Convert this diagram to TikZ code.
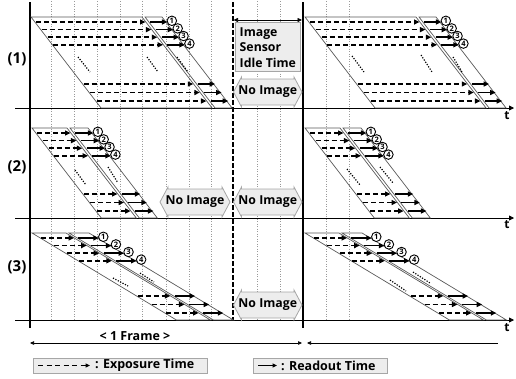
\documentclass[tikz,border=0pt]{standalone}
\usepackage{fontspec}
\setmainfont{Open Sans}
\usetikzlibrary{arrows.meta}
\newcommand\blk[9]{%
% #1 shift #2 ytop #3 ybot #4 slope #5 xL #6 xD1 #7 xD2 #8 xO #9 prefix
\begin{scope}[xshift=#1pt]
\pgfmathsetmacro\hh{#3-#2}
\draw[diag] (#5,#2) -- (#6,#2) -- ({#6+#4*\hh},#3) -- ({#5+#4*\hh},#3) -- cycle;
\draw[diag] (#7,#2) -- (#8,#2) -- ({#8+#4*\hh},#3) -- ({#7+#4*\hh},#3) -- cycle;
\foreach \dy [count=\i] in {5,12.6,20.2,27.8} {
  \pgfmathsetmacro\yy{#2+\dy}
  \draw[exparr] ({#5+#4*\dy+1},\yy) -- ({#6+#4*\dy-0.3},\yy);
  \draw[readarr] ({#7+#4*\dy+1},\yy) -- ({#8+#4*\dy+1.5},\yy);
  \node[circ] (#9c\i) at ({#8+#4*\dy+6},\yy-1.2) {\i};
}
\foreach \dd in {24,15.5,7} {
  \pgfmathsetmacro\dy{\hh-\dd}
  \pgfmathsetmacro\yy{#2+\dy}
  \draw[exparr] ({#5+#4*\dy+1},\yy) -- ({#6+#4*\dy-0.3},\yy);
  \draw[readarr] ({#7+#4*\dy+1},\yy) -- ({#8+#4*\dy+1.5},\yy);
}
\end{scope}}
\newcommand\noimg[4]{%
\draw[boxst] (#2,#4) -- (#2+8,#4-15) -- (#2+8,#4-13) -- (#3-8,#4-13) -- (#3-8,#4-15) -- (#3,#4) -- (#3-8,#4+15) -- (#3-8,#4+13) -- (#2+8,#4+13) -- (#2+8,#4+15) -- cycle;
\node[lbl] (#1) at ({(#2+#3)/2},#4) {No Image};}
\begin{document}
\begin{tikzpicture}[x=1pt,y=-1pt,
  diag/.style={draw=black!65,line width=0.7pt},
  gridl/.style={draw=black!40,line width=0.5pt,dash pattern=on 1pt off 1.5pt},
  exparr/.style={line width=1.5pt,dash pattern=on 5pt off 3pt,-{Triangle[length=5.5pt,width=5pt]}},
  readarr/.style={line width=1.6pt,-{Triangle[length=5.5pt,width=5pt]}},
  circ/.style={circle,draw,fill=white,inner sep=0pt,minimum size=9.5pt,line width=0.9pt,font=\bfseries\fontsize{7.5}{7.5}\selectfont},
  boxst/.style={draw=black!35,fill=black!7,line width=0.8pt},
  lbl/.style={font=\bfseries\fontsize{12.3}{15}\selectfont,inner sep=0pt},
  ellip/.style={line width=1.2pt,dash pattern=on 1.2pt off 1.5pt},
  axisl/.style={line width=0.8pt,-{Triangle[length=5pt,width=5pt]}}]
\useasboundingbox (0,0) rectangle (516,378);
% grid lines
\foreach \gx in {51.7,74.3,97.3,120,142.7,166,189,211.7,257.3,280,326,349}
  \draw[gridl] (\gx,1) -- (\gx,320);
% axes
\coordinate (a1s) at (15,108); \coordinate (a1e) at (514,108);
\coordinate (a2s) at (15,218); \coordinate (a2e) at (514,218);
\coordinate (a3s) at (15,320); \coordinate (a3e) at (514,320);
\draw[axisl] (a1s) -- (a1e);
\draw[axisl] (a2s) -- (a2e);
\draw[axisl] (a3s) -- (a3e);
\node[lbl,font=\bfseries\fontsize{12}{12}\selectfont] (t1) at (507,116) {t};
\node[lbl,font=\bfseries\fontsize{12}{12}\selectfont] (t2) at (507,225) {t};
\node[lbl,font=\bfseries\fontsize{12}{12}\selectfont] (t3) at (507,328) {t};
% thick verticals
\coordinate (v1t) at (30,2); \coordinate (v1b) at (30,328);
\coordinate (v2t) at (232.5,2); \coordinate (v2b) at (232.5,320);
\coordinate (v3t) at (303,2); \coordinate (v3b) at (303,328);
\draw[line width=2pt] (v1t) -- (v1b);
\draw[line width=2pt,dash pattern=on 5pt off 2pt] (v2t) -- (v2b);
\draw[line width=2pt] (v3t) -- (v3b);
% idle time
\coordinate (it1) at (233.5,20); \coordinate (it2) at (302,20);
\draw[line width=0.7pt,{Triangle[length=4.5pt,width=4pt]}-{Triangle[length=4.5pt,width=4pt]}] (it1) -- (it2);
\draw[boxst] (235,22.5) rectangle (300,71.5);
\node[lbl,anchor=base west] (im) at (239.5,36) {Image};
\node[lbl,anchor=base west] (se) at (239.5,51.5) {Sensor};
\node[lbl,anchor=base west] (id) at (239.5,67) {Idle Time};
% no image boxes
\noimg{n1}{233.5}{302}{92}
\noimg{n2a}{160}{230}{202}
\noimg{n2b}{233.5}{302}{202}
\noimg{n3}{233.5}{302}{305}
% blocks
\blk{0}{17}{108}{0.77}{31}{142}{145}{162}{ra}
\blk{274}{17}{108}{0.77}{31}{142}{145}{162}{rb}
\blk{0}{128}{218}{0.77}{32}{67}{70}{88}{sa}
\blk{273}{128}{218}{0.77}{32}{67}{70}{88}{sb}
\blk{0}{233}{320}{1.66}{32}{66}{69}{89}{ua}
\blk{273}{233}{320}{1.66}{32}{66}{69}{89}{ub}
% ellipsis dots
\draw[ellip] (78,57) -- (90,72);
\draw[ellip] (147,57) -- (158,72);
\draw[ellip] (177,57) -- (188,72);
\draw[ellip] (352,56) -- (364,72);
\draw[ellip] (421,55) -- (432,72);
\draw[ellip] (453,57) -- (462,72);
\draw[ellip] (75,170) -- (86,185);
\draw[ellip] (108,167) -- (118,183);
\draw[ellip] (347,169) -- (360,185);
\draw[ellip] (380,167) -- (393,183);
\draw[ellip] (113,278) -- (128,286);
\draw[ellip] (140,273) -- (154,282);
\draw[ellip] (390,280) -- (406,291);
\draw[ellip] (413,272) -- (430,283);
% row labels
\node[lbl,font=\bfseries\fontsize{15}{15}\selectfont] (l1) at (17,59) {(1)};
\node[lbl,font=\bfseries\fontsize{15}{15}\selectfont] (l2) at (17,167) {(2)};
\node[lbl,font=\bfseries\fontsize{15}{15}\selectfont] (l3) at (17,267) {(3)};
% frame
\node[lbl,font=\bfseries\fontsize{12.5}{12.5}\selectfont] (fr) at (135,336.5) {< 1 Frame >};
\coordinate (f1) at (30,343); \coordinate (f2) at (302,343);
\coordinate (f3) at (307,343); \coordinate (f4) at (498,343);
\draw[line width=0.6pt,{Triangle[length=4pt,width=3.5pt]}-{Triangle[length=4pt,width=3.5pt]}] (f1) -- (f2);
\draw[line width=0.6pt,{Triangle[length=4pt,width=3.5pt]}-] (f3) -- (f4);
% legend
\draw[boxst] (33,358) rectangle (207,373);
\coordinate (le1) at (38,365.5); \coordinate (le2) at (90,365.5);
\draw[line width=1.1pt,dash pattern=on 5pt off 3.5pt,-{Triangle[length=4.5pt,width=4pt]}] (le1) -- (le2);
\node[lbl,font=\bfseries\fontsize{12.5}{12.5}\selectfont,anchor=west] (lt1) at (95,365.5) {: Exposure Time};
\draw[boxst] (253,358) rectangle (387,373);
\coordinate (lr1) at (258,365.5); \coordinate (lr2) at (277,365.5);
\draw[line width=1.1pt,-{Triangle[length=4.5pt,width=4pt]}] (lr1) -- (lr2);
\node[lbl,font=\bfseries\fontsize{12.5}{12.5}\selectfont,anchor=west] (lt2) at (281,365.5) {: Readout Time};
\end{tikzpicture}
\end{document}
